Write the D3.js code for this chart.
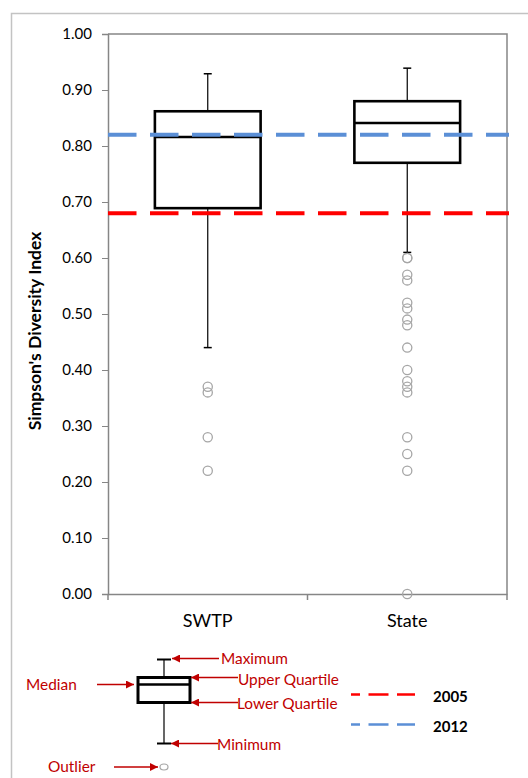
<!DOCTYPE html>
<html>
<head>
<meta charset="utf-8">
<script src="https://cdn.jsdelivr.net/npm/d3@7/dist/d3.min.js"></script>
<style>
  html, body { margin: 0; padding: 0; background: #fff; }
  svg { display: block; font-family: Lato, "Open Sans", sans-serif; }
</style>
</head>
<body>
<svg id="chart" width="528" height="778"></svg>
<script>
// Box-plot summary for each group
const categories = ["SWTP", "State"];
const minimum = [0.44, 0.61];
const lowerQuartile = [0.689, 0.770];
const median = [0.816, 0.841];
const upperQuartile = [0.862, 0.880];
const maximum = [0.929, 0.939];

// Outlying sites per group
const outliersSWTP = [0.37, 0.36, 0.28, 0.22];
const outliersState = [0.60, 0.60, 0.57, 0.56, 0.52, 0.51, 0.49, 0.48, 0.44, 0.40, 0.38, 0.37, 0.36, 0.28, 0.25, 0.22, 0.00];

// Statewide reference levels
const referenceYears = ["2005", "2012"];
const referenceValues = [0.68, 0.82];
const referenceColors = ["#ff0000", "#5b8fd6"];

const yTicks = [0, 0.1, 0.2, 0.3, 0.4, 0.5, 0.6, 0.7, 0.8, 0.9, 1.0];

const svg = d3.select("#chart");
const axisColor = "#868686";
const keyRed = "#c00000";

// Outer frame
svg.append("rect")
  .attr("x", 11.5).attr("y", 13.5)
  .attr("width", 640).attr("height", 900)
  .attr("fill", "none").attr("stroke", "#c3c3c3").attr("stroke-width", 1.5);

const plot = { left: 108, right: 507, top: 34, bottom: 594 };

const x = d3.scaleBand().domain(categories).range([plot.left, plot.right]).padding(0);
const y = d3.scaleLinear().domain([0, 1]).range([plot.bottom, plot.top]);

// Plot-area border (top and right)
svg.append("path")
  .attr("d", `M${plot.left},${plot.top}H${plot.right}V${plot.bottom}`)
  .attr("fill", "none").attr("stroke", axisColor).attr("stroke-width", 1.5);

// Y axis
const yAxis = svg.append("g")
  .attr("transform", `translate(${plot.left},0)`)
  .call(d3.axisLeft(y).tickValues(yTicks).tickFormat(d3.format(".2f")).tickSize(6).tickPadding(10));
yAxis.select(".domain").attr("stroke", axisColor).attr("stroke-width", 1.5);
yAxis.selectAll(".tick line").attr("stroke", axisColor).attr("stroke-width", 1);
yAxis.selectAll(".tick text")
  .attr("fill", "#000").style("font-size", "15px").style("font-family", "Lato, sans-serif");

// X axis with ticks at band edges
const xAxis = svg.append("g")
  .attr("transform", `translate(0,${plot.bottom})`)
  .call(d3.axisBottom(x).tickSize(0).tickPadding(20));
xAxis.select(".domain").attr("stroke", axisColor).attr("stroke-width", 1.5);
xAxis.selectAll(".tick text")
  .attr("fill", "#000").style("font-size", "18px").style("font-family", "Lato, sans-serif");
const edges = [plot.left].concat(categories.map(c => x(c) + x.bandwidth()));
xAxis.selectAll(".edge").data(edges).enter().append("line")
  .attr("x1", d => d).attr("x2", d => d)
  .attr("y1", 0).attr("y2", 6)
  .attr("stroke", axisColor).attr("stroke-width", 1.5);

// Y-axis title
svg.append("text")
  .attr("transform", "translate(41,331) rotate(-90)")
  .attr("text-anchor", "middle")
  .style("font-size", "17.5px").style("font-weight", "bold")
  .text("Simpson's Diversity Index");

// Boxes
const boxW = x.bandwidth() * 0.53;
const cx = i => x(categories[i]) + x.bandwidth() / 2;
const capW = 8;

const g = svg.append("g");
categories.forEach((c, i) => {
  const mx = cx(i);
  // whiskers
  g.append("line").attr("x1", mx).attr("x2", mx)
    .attr("y1", y(upperQuartile[i])).attr("y2", y(maximum[i]))
    .attr("stroke", "#000").attr("stroke-width", 1.2);
  g.append("line").attr("x1", mx).attr("x2", mx)
    .attr("y1", y(lowerQuartile[i])).attr("y2", y(minimum[i]))
    .attr("stroke", "#000").attr("stroke-width", 1.2);
  [maximum[i], minimum[i]].forEach(v => {
    g.append("line").attr("x1", mx - capW / 2).attr("x2", mx + capW / 2)
      .attr("y1", y(v)).attr("y2", y(v))
      .attr("stroke", "#000").attr("stroke-width", 1.5);
  });
  // box
  g.append("rect")
    .attr("x", mx - boxW / 2).attr("width", boxW)
    .attr("y", y(upperQuartile[i])).attr("height", y(lowerQuartile[i]) - y(upperQuartile[i]))
    .attr("fill", "#fff").attr("stroke", "#000").attr("stroke-width", 2.6);
  g.append("line")
    .attr("x1", mx - boxW / 2).attr("x2", mx + boxW / 2)
    .attr("y1", y(median[i])).attr("y2", y(median[i]))
    .attr("stroke", "#000").attr("stroke-width", 2.6);
});

// Outliers
[outliersSWTP, outliersState].forEach((arr, i) => {
  g.selectAll(null).data(arr).enter().append("circle")
    .attr("cx", cx(i)).attr("cy", d => y(d)).attr("r", 4.6)
    .attr("fill", "none").attr("stroke", "#a6a6a6").attr("stroke-width", 1.3);
});

// Reference lines
referenceValues.forEach((v, i) => {
  svg.append("line")
    .attr("x1", plot.left).attr("x2", plot.right + 2)
    .attr("y1", y(v)).attr("y2", y(v))
    .attr("stroke", referenceColors[i]).attr("stroke-width", 4)
    .attr("stroke-dasharray", "28.5,13.5");
});

// ----- Key -----
const key = svg.append("g");
const kx = 164;
const kTop = 659.5, kQ3 = 677.5, kMed = 684.5, kQ1 = 702.5, kBot = 743.5;
key.append("line").attr("x1", kx).attr("x2", kx).attr("y1", kTop).attr("y2", kBot)
  .attr("stroke", "#000").attr("stroke-width", 1.2);
[kTop, kBot].forEach(v => key.append("line")
  .attr("x1", kx - 7).attr("x2", kx + 7).attr("y1", v).attr("y2", v)
  .attr("stroke", "#000").attr("stroke-width", 2));
key.append("rect").attr("x", 138).attr("y", kQ3).attr("width", 52).attr("height", kQ1 - kQ3)
  .attr("fill", "#fff").attr("stroke", "#000").attr("stroke-width", 3);
key.append("line").attr("x1", 138).attr("x2", 190).attr("y1", kMed).attr("y2", kMed)
  .attr("stroke", "#000").attr("stroke-width", 2.6);
key.append("ellipse").attr("cx", kx).attr("cy", 767).attr("rx", 4).attr("ry", 3)
  .attr("fill", "none").attr("stroke", "#a6a6a6").attr("stroke-width", 1.2);

svg.append("defs").append("marker")
  .attr("id", "arrowhead").attr("viewBox", "0 0 10 10")
  .attr("refX", 10).attr("refY", 5)
  .attr("markerWidth", 10).attr("markerHeight", 8)
  .attr("markerUnits", "userSpaceOnUse")
  .attr("orient", "auto")
  .append("path").attr("d", "M0,0L10,5L0,10Z").attr("fill", keyRed);

const notes = [
  { label: "Maximum",        x1: 219, x2: 172, y: 658.5, tx: 221, ty: 659 },
  { label: "Upper Quartile", x1: 238, x2: 191, y: 677.5, tx: 238, ty: 680 },
  { label: "Lower Quartile", x1: 238, x2: 191, y: 702.5, tx: 237, ty: 703.5 },
  { label: "Minimum",        x1: 218, x2: 171, y: 743.5, tx: 217, ty: 745 },
  { label: "Median",         x1: 97,  x2: 134, y: 684.5, tx: 26,  ty: 684.5 },
  { label: "Outlier",        x1: 114, x2: 158, y: 767,   tx: 48,  ty: 767 }
];
notes.forEach(n => {
  key.append("line").attr("x1", n.x1).attr("x2", n.x2).attr("y1", n.y).attr("y2", n.y)
    .attr("stroke", keyRed).attr("stroke-width", 1.3).attr("marker-end", "url(#arrowhead)");
  key.append("text").attr("x", n.tx).attr("y", n.ty).attr("dy", "0.35em")
    .attr("fill", keyRed).style("font-size", "15.4px").text(n.label);
});

// Reference-line legend
const legendY = [694.5, 724.5];
referenceYears.forEach((yr, i) => {
  key.append("line").attr("x1", 351).attr("x2", 415)
    .attr("y1", legendY[i]).attr("y2", legendY[i])
    .attr("stroke", referenceColors[i]).attr("stroke-width", 2.6)
    .attr("stroke-dasharray", "20,8.5").attr("stroke-dashoffset", 11);
  key.append("text").attr("x", 433).attr("y", legendY[i] + 2).attr("dy", "0.35em")
    .style("font-size", "15px").style("font-weight", "bold").text(yr);
});
</script>
</body>
</html>
